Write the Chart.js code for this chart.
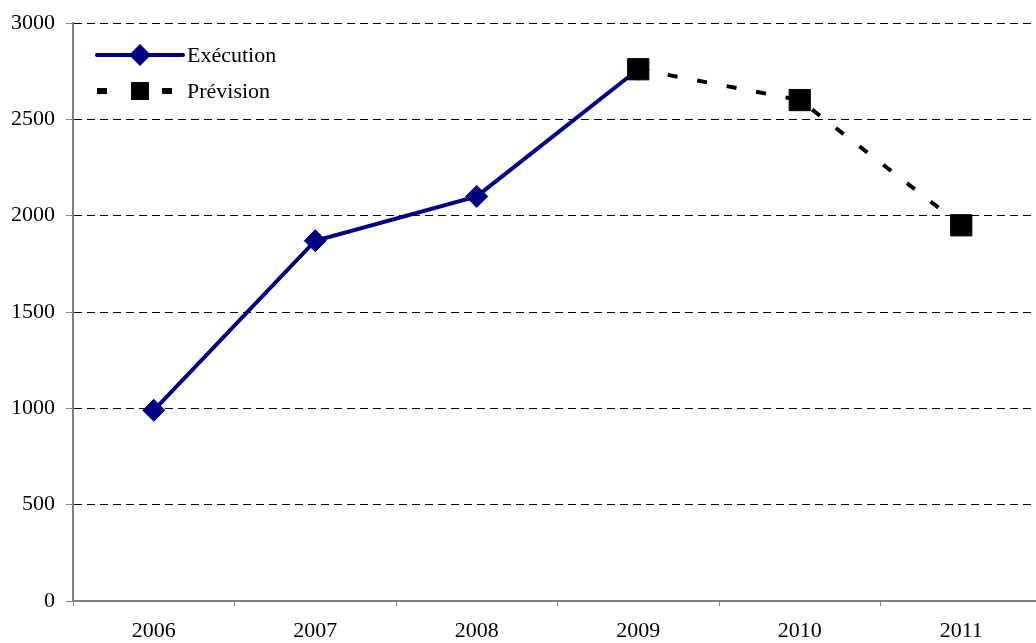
<!DOCTYPE html>
<html>
<head>
<meta charset="utf-8">
<script src="https://cdn.jsdelivr.net/npm/chart.js@4"></script>
<style>
  html, body { margin: 0; padding: 0; background: #fff; overflow: hidden; }
  /* the plot runs a little past the right edge in the original, so the canvas is wider and clipped */
  #wrap { width: 1036px; height: 643px; overflow: hidden; }
</style>
</head>
<body>
<div id="wrap"><canvas id="chart" width="1042" height="643"></canvas></div>
<script>
const years = ['2006', '2007', '2008', '2009', '2010', '2011'];
const execution = [990, 1870, 2100, 2760, null, null];
const prevision = [null, null, null, 2760, 2600, 1950];
const seriesNames = ['Exécution', 'Prévision'];

const FONT = '"Liberation Serif", "Times New Roman", serif';
const NAVY = '#000080';

// legend drawn inside the plot, top-left, like the original
const insideLegend = {
  id: 'insideLegend',
  afterDraw(chart) {
    const ctx = chart.ctx;
    const x0 = 97, x1 = 183, xm = 140;
    const rows = [55, 91];
    ctx.save();
    ctx.font = '22px ' + FONT;
    ctx.textBaseline = 'middle';

    // Exécution
    ctx.strokeStyle = NAVY;
    ctx.lineWidth = 4;
    ctx.lineCap = 'round';
    ctx.beginPath();
    ctx.moveTo(x0, rows[0]);
    ctx.lineTo(x1, rows[0]);
    ctx.stroke();
    ctx.fillStyle = NAVY;
    ctx.beginPath();
    ctx.moveTo(xm - 11, rows[0]);
    ctx.lineTo(xm, rows[0] - 11);
    ctx.lineTo(xm + 11, rows[0]);
    ctx.lineTo(xm, rows[0] + 11);
    ctx.closePath();
    ctx.fill();

    // Prévision
    ctx.fillStyle = '#000';
    ctx.fillRect(97, rows[1] - 3, 10, 6);
    ctx.fillRect(162, rows[1] - 3, 10, 6);
    ctx.fillRect(xm - 9, rows[1] - 9, 18, 18);

    ctx.fillText(seriesNames[0], 187, rows[0] + 1);
    ctx.fillText(seriesNames[1], 187, rows[1] + 1);
    ctx.restore();
  }
};

new Chart(document.getElementById('chart'), {
  type: 'line',
  data: {
    labels: years,
    datasets: [
      {
        label: seriesNames[0],
        data: execution,
        borderColor: NAVY,
        backgroundColor: NAVY,
        borderWidth: 4,
        pointStyle: 'rectRot',
        pointRadius: 11,
        pointBorderWidth: 1,
        pointBackgroundColor: NAVY,
        pointBorderColor: NAVY,
        tension: 0,
        order: 1
      },
      {
        label: seriesNames[1],
        data: prevision,
        borderColor: '#000',
        backgroundColor: '#000',
        borderWidth: 4,
        borderDash: [10, 20],
        pointStyle: 'rect',
        pointRadius: 15,
        pointBorderWidth: 1,
        pointBackgroundColor: '#000',
        pointBorderColor: '#000',
        tension: 0,
        order: 0
      }
    ]
  },
  options: {
    responsive: false,
    animation: false,
    layout: { autoPadding: false, padding: { top: 23, right: 0, bottom: 0, left: 0 } },
    plugins: {
      legend: { display: false },
      tooltip: { enabled: false }
    },
    scales: {
      x: {
        offset: true,
        grid: {
          offset: true,
          drawOnChartArea: false,
          drawTicks: true,
          tickLength: 5,
          tickColor: '#808080',
          tickWidth: 1
        },
        border: { color: '#808080', width: 2 },
        ticks: {
          color: '#000',
          font: { family: FONT, size: 22 },
          padding: 12,
          maxRotation: 0
        },
        afterFit(scale) {
          scale.height = 42;
          scale.paddingLeft = 0;
          scale.paddingRight = 0;
        }
      },
      y: {
        min: 0,
        max: 3000,
        grid: {
          color: '#000',
          lineWidth: 1,
          tickColor: '#808080',
          tickBorderDash: [],
          tickLength: 7
        },
        border: { color: '#808080', width: 2, dash: [8, 5] },
        ticks: {
          stepSize: 500,
          color: '#000',
          font: { family: FONT, size: 22 },
          padding: 11,
          callback: (v) => String(v)
        },
        afterFit(scale) {
          scale.width = 73;
          scale.paddingTop = 0;
        }
      }
    }
  },
  plugins: [insideLegend]
});
</script>
</body>
</html>
